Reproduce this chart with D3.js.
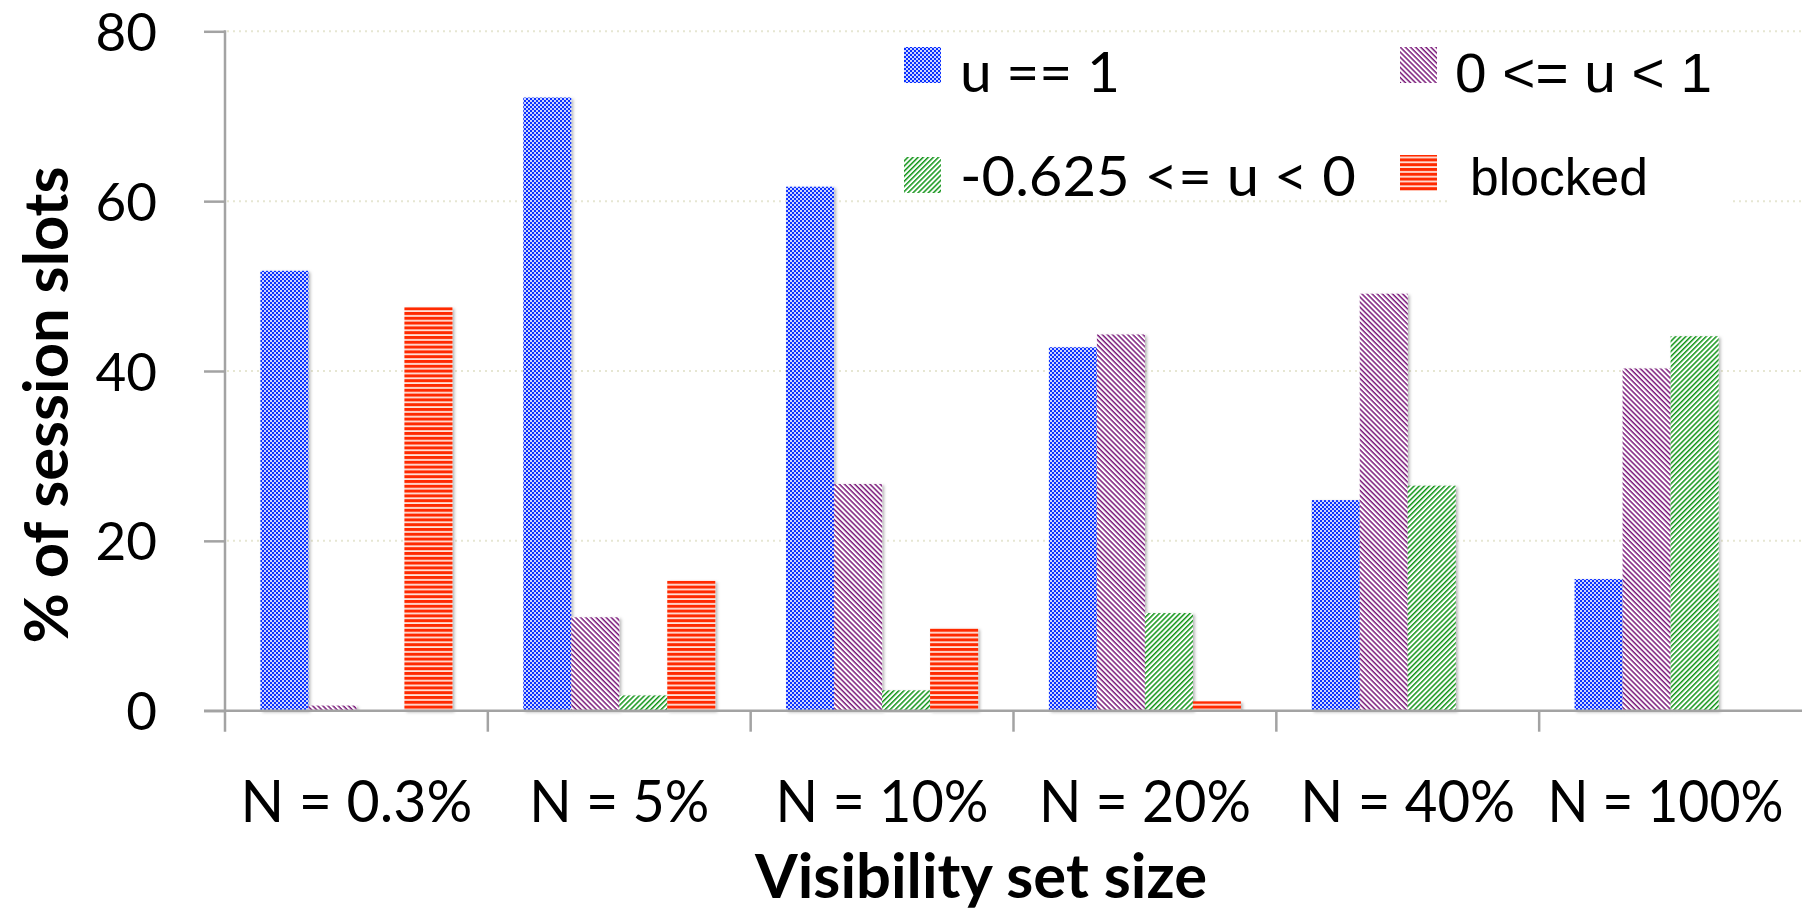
<!DOCTYPE html>
<html>
<head>
<meta charset="utf-8">
<script src="https://cdn.jsdelivr.net/npm/d3@7"></script>
<style>
  html, body { margin: 0; padding: 0; background: #fff; }
  svg { display: block; }
</style>
</head>
<body>
<svg id="chart" width="1802" height="912"></svg>
<script>
// Share of session slots per utility class, for each visibility set size
const categories = ["N = 0.3%", "N = 5%", "N = 10%", "N = 20%", "N = 40%", "N = 100%"];
const seriesNames = ["u == 1", "0 <= u < 1", "-0.625 <= u < 0", "blocked"];
const uEqualsOne = [51.8, 72.2, 61.7, 42.8, 24.8, 15.5];
const uZeroToOne = [0.6, 11.0, 26.7, 44.3, 49.1, 40.3];
const uNegToZero = [0, 1.8, 2.4, 11.5, 26.5, 44.1];
const blockedShare = [47.5, 15.3, 9.7, 1.1, 0, 0];
const yTicks = [0, 20, 40, 60, 80];
const yTitle = "% of session slots";
const xTitle = "Visibility set size";

const seriesValues = [uEqualsOne, uZeroToOne, uNegToZero, blockedShare];
const patternIds = ["pat-blue", "pat-purple", "pat-green", "pat-red"];

const svg = d3.select("#chart");
const defs = svg.append("defs");

// fill patterns
const pBlue = defs.append("pattern").attr("id", "pat-blue")
  .attr("patternUnits", "userSpaceOnUse").attr("width", 4).attr("height", 4);
pBlue.append("rect").attr("width", 4).attr("height", 4).attr("fill", "#cdd5ff");
pBlue.append("rect").attr("width", 2).attr("height", 2).attr("fill", "#0a30ff");
pBlue.append("rect").attr("x", 2).attr("y", 2).attr("width", 2).attr("height", 2).attr("fill", "#0a30ff");

function hatch(id, color, angle, period, thick) {
  const p = defs.append("pattern").attr("id", id)
    .attr("patternUnits", "userSpaceOnUse")
    .attr("width", period).attr("height", period)
    .attr("patternTransform", `rotate(${angle})`);
  p.append("rect").attr("width", period).attr("height", period).attr("fill", "#fff");
  p.append("rect").attr("width", period).attr("height", thick).attr("fill", color);
}
hatch("pat-purple", "#7a1a7a", 45, 3.6, 1.5);
hatch("pat-green", "#129418", -45, 3.6, 1.5);

const pRed = defs.append("pattern").attr("id", "pat-red")
  .attr("patternUnits", "userSpaceOnUse").attr("width", 8).attr("height", 4.8);
pRed.append("rect").attr("width", 8).attr("height", 4.8).attr("fill", "#ffe2da");
pRed.append("rect").attr("width", 8).attr("height", 3).attr("fill", "#ff2a00");

const shadow = defs.append("filter").attr("id", "barShadow")
  .attr("x", "-20%").attr("y", "-5%").attr("width", "150%").attr("height", "115%");
shadow.append("feDropShadow").attr("dx", 2).attr("dy", 1.5)
  .attr("stdDeviation", 1.6).attr("flood-color", "#000").attr("flood-opacity", 0.28);

// scales
const plotLeft = 225, plotRight = 1802, plotTop = 31.3, plotBottom = 710.7;
const y = d3.scaleLinear().domain([0, 80]).range([plotBottom, plotTop]);
const x0 = d3.scaleBand().domain(categories).range([plotLeft, plotRight]);
const bw = x0.bandwidth();
const x1 = d3.scaleBand().domain(d3.range(seriesNames.length))
  .range([bw * 0.1347, bw * 0.8653]);

const axisColor = "#a3a3a3";

// dotted gridlines
svg.append("g").selectAll("line").data(yTicks.filter(t => t > 0)).join("line")
  .attr("x1", plotLeft + 2).attr("x2", plotRight)
  .attr("y1", d => y(d)).attr("y2", d => y(d))
  .attr("stroke", "#e6e6d2").attr("stroke-width", 2)
  .attr("stroke-dasharray", "2 4");

// bars
const barG = svg.append("g");
seriesValues.forEach((vals, si) => {
  barG.append("g").selectAll("rect")
    .data(vals.map((v, i) => ({ v, c: categories[i] })).filter(d => d.v > 0))
    .join("rect")
    .attr("x", d => x0(d.c) + x1(si))
    .attr("width", x1.bandwidth())
    .attr("y", d => y(d.v))
    .attr("height", d => y(0) - y(d.v))
    .attr("fill", `url(#${patternIds[si]})`)
    .attr("filter", "url(#barShadow)");
});

// y axis
const yAxis = d3.axisLeft(y).tickValues(yTicks).tickSize(21).tickPadding(47)
  .tickFormat(d3.format("d"));
const yG = svg.append("g").attr("transform", `translate(${plotLeft},0)`).call(yAxis);
yG.select(".domain").remove();
yG.selectAll(".tick line").attr("stroke", axisColor).attr("stroke-width", 2.5);
yG.selectAll(".tick text")
  .attr("font-family", "Lato, 'Open Sans', sans-serif")
  .attr("font-size", 53).attr("fill", "#000")
  .attr("dy", "0.36em");
svg.append("line").attr("x1", plotLeft).attr("x2", plotLeft)
  .attr("y1", plotTop - 1).attr("y2", plotBottom + 21)
  .attr("stroke", axisColor).attr("stroke-width", 2.5);

// x axis baseline and category separators
svg.append("line").attr("x1", plotLeft - 21).attr("x2", plotRight)
  .attr("y1", plotBottom).attr("y2", plotBottom)
  .attr("stroke", axisColor).attr("stroke-width", 2.5);
svg.append("g").selectAll("line").data(categories.slice(1)).join("line")
  .attr("x1", d => x0(d)).attr("x2", d => x0(d))
  .attr("y1", plotBottom).attr("y2", plotBottom + 21)
  .attr("stroke", axisColor).attr("stroke-width", 2.5);

const xLabelWidths = [232, 180, 213, 212, 215, 236];
svg.append("g").selectAll("text").data(categories).join("text")
  .attr("x", (d, i) => x0(d) + bw / 2 - (i === categories.length - 1 ? 5 : 0))
  .attr("y", 822)
  .attr("text-anchor", "middle")
  .attr("font-family", "Lato, 'Open Sans', sans-serif")
  .attr("font-size", 59)
  .attr("textLength", (d, i) => xLabelWidths[i])
  .attr("lengthAdjust", "spacingAndGlyphs")
  .text(d => d);

// axis titles
svg.append("text")
  .attr("transform", "translate(68,405) rotate(-90)")
  .attr("text-anchor", "middle")
  .attr("font-family", "Lato, 'Open Sans', sans-serif")
  .attr("font-weight", "bold").attr("font-size", 62)
  .attr("textLength", 477).attr("lengthAdjust", "spacingAndGlyphs")
  .text(yTitle);

svg.append("text")
  .attr("x", 981).attr("y", 898)
  .attr("text-anchor", "middle")
  .attr("font-family", "Lato, 'Open Sans', sans-serif")
  .attr("font-weight", "bold").attr("font-size", 62)
  .attr("textLength", 452).attr("lengthAdjust", "spacingAndGlyphs")
  .text(xTitle);

// legend
const legendItems = [
  { name: seriesNames[0], pat: patternIds[0], sx: 904, sy: 47, tx: 960, ty: 92, w: 160, font: "Lato, 'Open Sans', sans-serif", fs: 56 },
  { name: seriesNames[1], pat: patternIds[1], sx: 1400, sy: 47, tx: 1455, ty: 92, w: 257, font: "'Liberation Sans', Arial, sans-serif", fs: 56 },
  { name: seriesNames[2], pat: patternIds[2], sx: 904, sy: 157, tx: 960, ty: 196, w: 396, font: "Lato, 'Open Sans', sans-serif", fs: 56 },
  { name: seriesNames[3], pat: patternIds[3], sx: 1400, sy: 155, tx: 1470, ty: 195, w: 178, font: "'Liberation Sans', Arial, sans-serif", fs: 52, box: [1447, 150, 283, 58] }
];
const lg = svg.append("g");
legendItems.forEach(it => {
  if (it.box) {
    lg.append("rect").attr("x", it.box[0]).attr("y", it.box[1])
      .attr("width", it.box[2]).attr("height", it.box[3]).attr("fill", "#fff");
  }
  lg.append("rect").attr("x", it.sx).attr("y", it.sy).attr("width", 37).attr("height", 36)
    .attr("fill", `url(#${it.pat})`);
  lg.append("text").attr("x", it.tx).attr("y", it.ty)
    .attr("font-family", it.font).attr("font-size", it.fs)
    .attr("textLength", it.w).attr("lengthAdjust", "spacingAndGlyphs")
    .text(it.name);
});
</script>
</body>
</html>
